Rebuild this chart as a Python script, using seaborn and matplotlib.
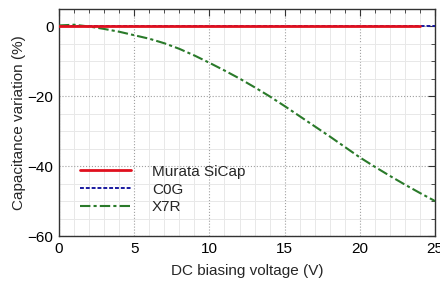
import numpy as np
import pandas as pd
import matplotlib
matplotlib.use("Agg")
import matplotlib.pyplot as plt
import seaborn as sns
from matplotlib.ticker import MultipleLocator

# ----- data -----
volts = [0, 1, 2, 3, 4, 5, 6, 7, 8, 9, 10, 11, 12, 13, 14, 15, 16, 17,
         18, 19, 20, 21, 22, 23, 24, 25]
x7r = [0.3, 0.5, 0.0, -0.7, -1.5, -2.5, -3.5, -4.8, -6.4, -8.3, -10.4,
       -12.6, -14.9, -17.4, -20.0, -22.8, -25.7, -28.6, -31.5, -34.5,
       -37.5, -40.2, -42.8, -45.3, -47.7, -50.0]
sicap_v = [0, 24]
sicap = [0.0, 0.0]
c0g_v = [0, 25]
c0g = [0.0, 0.0]

sns.set_theme(style="white")
plt.rcParams["font.family"] = ["Liberation Sans", "DejaVu Sans"]
plt.rcParams["font.size"] = 11

fig = plt.figure(figsize=(4.4, 2.82), dpi=100)
ax = fig.add_axes([0.134, 0.163, 0.855, 0.805])

ax.set_axisbelow(True)
ax.xaxis.set_major_locator(MultipleLocator(5))
ax.xaxis.set_minor_locator(MultipleLocator(1))
ax.yaxis.set_major_locator(MultipleLocator(20))
ax.yaxis.set_minor_locator(MultipleLocator(5))
ax.grid(which="minor", color="#e8e8e8", linewidth=0.7, linestyle="-")
ax.grid(which="major", color="#a0a0a0", linewidth=0.8, linestyle=":")

sns.lineplot(x=c0g_v, y=c0g, ax=ax, color="#1a1aa0", linewidth=1.4,
             linestyle=(0, (2, 1)), label="C0G", zorder=3)
sns.lineplot(x=sicap_v, y=sicap, ax=ax, color="#e0101e", linewidth=2.0,
             label="Murata SiCap", zorder=4)
sns.lineplot(x=volts, y=x7r, ax=ax, color="#2a7a2a", linewidth=1.5,
             linestyle=(0, (5, 1.5, 1.5, 1.5)), label="X7R", zorder=3)

handles, labels = ax.get_legend_handles_labels()
order = [labels.index(l) for l in ["Murata SiCap", "C0G", "X7R"]]
ax.legend([handles[i] for i in order], [labels[i] for i in order],
          loc="lower left", bbox_to_anchor=(0.02, 0.035), frameon=False,
          fontsize=11, handlelength=3.3, handletextpad=1.4,
          labelspacing=0.25)

ax.set_xlim(0, 25)
ax.set_ylim(-60, 5)
ax.set_xlabel("DC biasing voltage (V)", fontsize=11, labelpad=6)
ax.set_ylabel("Capacitance variation (%)", fontsize=11, labelpad=1)
ax.tick_params(which="both", direction="in", top=True, right=True,
               colors="#333333", labelcolor="black", labelsize=11, pad=4)
ax.tick_params(which="major", length=5, width=0.8)
ax.tick_params(which="minor", length=3, width=0.6)
for s in ax.spines.values():
    s.set_color("#333333")
    s.set_linewidth(1.0)

fig.savefig("out.png", dpi=100)
